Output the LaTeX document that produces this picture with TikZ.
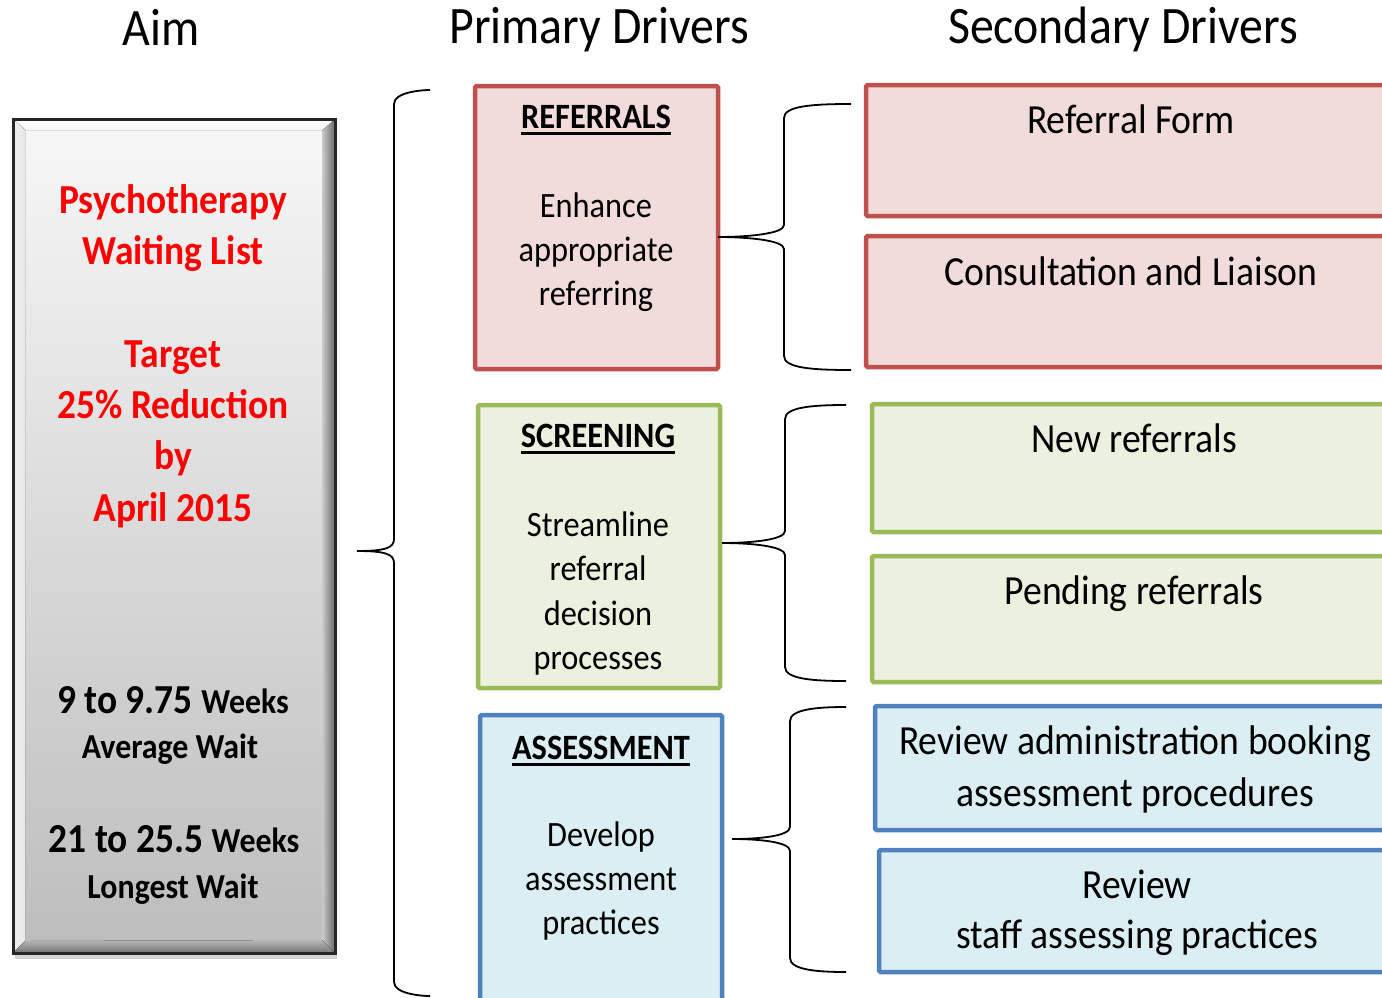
\documentclass[tikz,border=0pt]{standalone}
\usepackage{graphicx}
\usepackage{fontspec}
\setmainfont{Carlito}
\usetikzlibrary{shadows}

\definecolor{refline}{HTML}{C0504D}
\definecolor{reffill}{HTML}{F2DCDB}
\definecolor{scrline}{HTML}{9BBB59}
\definecolor{scrfill}{HTML}{EBF1DE}
\definecolor{asmline}{HTML}{4F81BD}
\definecolor{asmfill}{HTML}{DBEEF3}
\definecolor{aimred}{HTML}{FF0000}

% font sizes
\newcommand\headfont{\fontsize{48}{57}\selectfont}
\newcommand\primfont{\fontsize{32.5}{44}\selectfont}
\newcommand\secfont{\fontsize{37.8}{52}\selectfont}
\newcommand\aimbig{\fontsize{37.6}{51}\selectfont\bfseries}
\newcommand\aimsmall{\fontsize{32}{46}\selectfont\bfseries}

% slightly tall lettering
\newcommand\tall[1]{\scalebox{1}[1.1]{#1}}

% heavy underline for the driver titles
\newcommand\thickul[1]{\setbox0\hbox{#1}\rlap{\raisebox{-6bp}{\rule{\wd0}{2.4bp}}}\box0}

% curly brace: tip x, tip y, spine x, top y, bottom y, end x
\newcommand\drawbrace[6]{%
  \draw[bracestroke] (#6,#4) .. controls (#3+28,#4) and (#3,#4+2) .. (#3,#4+14)
    -- (#3,#2-12) .. controls (#3,#2-3) and (#1+28,#2) .. (#1,#2)
    .. controls (#1+28,#2) and (#3,#2+3) .. (#3,#2+12)
    -- (#3,#5-14) .. controls (#3,#5-2) and (#3+28,#5) .. (#6,#5);}

\tikzset{
  drvbox/.style={rectangle, line width=4.5bp, rounded corners=1.5bp,
    inner sep=0pt, outer sep=0pt, anchor=north west},
  refbox/.style={drvbox, draw=refline, fill=reffill},
  scrbox/.style={drvbox, draw=scrline, fill=scrfill},
  asmbox/.style={drvbox, draw=asmline, fill=asmfill},
  txt/.style={inner sep=0pt, anchor=base},
  bracestroke/.style={line width=1.8bp, black},
}

\begin{document}
\begin{tikzpicture}[x=1bp,y=-1bp]
\useasboundingbox (0,0) rectangle (1382,997);
\clip (0,0) rectangle (1382,997);

% column headings
\node[txt, font=\headfont] (haim) at (161,45) {\tall{Aim}};
\node[txt, font=\headfont] (hprim) at (599,43) {\tall{Primary Drivers}};
\node[txt, font=\headfont] (hsec) at (1123,43) {\tall{Secondary Drivers}};

% aim panel with bevelled edges
\node[rectangle, anchor=north west, inner sep=0pt, outer sep=0pt, minimum width=322bp,
  minimum height=834bp, top color=black!3, bottom color=black!26,
  drop shadow={opacity=0.35, shadow xshift=2bp, shadow yshift=-6bp}] (aim) at (13,119) {};
\fill[top color=white, bottom color=black!4] (13,119) -- (335,119) -- (323,130) -- (25,130) -- cycle;
\fill[left color=black!6, right color=black!9] (13,119) -- (25,130) -- (25,941) -- (13,953) -- cycle;
\fill[left color=black!20, right color=black!60] (335,119) -- (335,953) -- (322,940) -- (322,131) -- cycle;
\fill[top color=black!28, bottom color=black!55] (13,953) -- (25,941) -- (322,940) -- (335,953) -- cycle;
\draw[line width=3bp, black!85] (aim.north west) rectangle (aim.south east);

% aim text
\node[txt, font=\aimbig, text=aimred] (a1) at (173,213) {\tall{Psychotherapy}};
\node[txt, font=\aimbig, text=aimred] (a2) at (173,264) {\tall{Waiting List}};
\node[txt, font=\aimbig, text=aimred] (a3) at (173,367) {\tall{Target}};
\node[txt, font=\aimbig, text=aimred] (a4) at (173,418) {\tall{25\% Reduction}};
\node[txt, font=\aimbig, text=aimred] (a5) at (173,469) {\tall{by}};
\node[txt, font=\aimbig, text=aimred] (a6) at (173,521) {\tall{April 2015}};
\node[txt] (w1) at (173,713) {\tall{\aimbig 9 to 9.75 \aimsmall Weeks}};
\node[txt, font=\aimsmall] (w2) at (170,758) {\tall{Average Wait}};
\node[txt] (w3) at (174,852) {\tall{\aimbig 21 to 25.5 \aimsmall Weeks}};
\node[txt, font=\aimsmall] (w4) at (173,898) {\tall{Longest Wait}};

% main brace
\drawbrace{357}{551}{394}{90}{996}{430}

% primary drivers
\node[refbox, minimum width=243bp, minimum height=283bp] (ref) at (475,86) {};
\node[scrbox, minimum width=242bp, minimum height=283bp] (scr) at (478,405) {};
\node[asmbox, minimum width=242bp, minimum height=300bp] (asm) at (480,715) {};

\node[txt, font=\primfont\bfseries] (refh) at (596,128) {\tall{\thickul{REFERRALS}}};
\node[txt, font=\primfont] (ref1) at (596,217) {\tall{Enhance}};
\node[txt, font=\primfont] (ref2) at (596,261) {\tall{appropriate}};
\node[txt, font=\primfont] (ref3) at (596,305) {\tall{referring}};

\node[txt, font=\primfont\bfseries] (scrh) at (598,447) {\tall{\thickul{SCREENING}}};
\node[txt, font=\primfont] (scr1) at (598,536) {\tall{Streamline}};
\node[txt, font=\primfont] (scr2) at (598,580) {\tall{referral}};
\node[txt, font=\primfont] (scr3) at (598,625) {\tall{decision}};
\node[txt, font=\primfont] (scr4) at (598,669) {\tall{processes}};

\node[txt, font=\primfont\bfseries] (asmh) at (601,759) {\tall{\thickul{ASSESSMENT}}};
\node[txt, font=\primfont] (asm1) at (601,846) {\tall{Develop}};
\node[txt, font=\primfont] (asm2) at (601,890) {\tall{assessment}};
\node[txt, font=\primfont] (asm3) at (601,934) {\tall{practices}};

% braces to the secondary drivers
\drawbrace{718}{237}{784}{104}{370}{851}
\drawbrace{722}{543}{785}{405}{681}{846}
\drawbrace{732}{839}{790}{707}{972}{846}

% secondary drivers
\node[refbox, minimum width=530bp, minimum height=131bp] (rf) at (866,85) {};
\node[refbox, minimum width=530bp, minimum height=131bp] (cl) at (866,236) {};
\node[scrbox, minimum width=524bp, minimum height=128bp] (nr) at (872,404) {};
\node[scrbox, minimum width=524bp, minimum height=126bp] (pr) at (872,556) {};
\node[asmbox, minimum width=521bp, minimum height=124bp] (ra) at (875,706) {};
\node[asmbox, minimum width=517bp, minimum height=122bp] (rs) at (879,850) {};

\node[txt, font=\secfont] (rft) at (1131,133) {\tall{Referral Form}};
\node[txt, font=\secfont] (clt) at (1131,285) {\tall{Consultation and Liaison}};
\node[txt, font=\secfont] (nrt) at (1134,452) {\tall{New referrals}};
\node[txt, font=\secfont] (prt) at (1134,604) {\tall{Pending referrals}};
\node[txt, font=\secfont] (rat1) at (1135,754) {\tall{Review administration booking}};
\node[txt, font=\secfont] (rat2) at (1135,806) {\tall{assessment procedures}};
\node[txt, font=\secfont] (rst1) at (1137,898) {\tall{Review}};
\node[txt, font=\secfont] (rst2) at (1137,948) {\tall{staff assessing practices}};
\end{tikzpicture}
\end{document}
